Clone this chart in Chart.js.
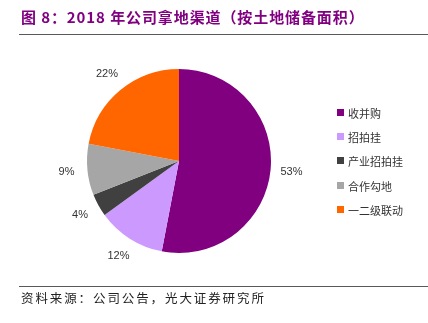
<!DOCTYPE html>
<html>
<head>
<meta charset="utf-8">
<script src="https://cdn.jsdelivr.net/npm/chart.js@4/dist/chart.umd.min.js"></script>
<style>
    html, body { margin: 0; padding: 0; background: #fff; }
    #wrap { position: relative; width: 428px; height: 323px; overflow: hidden; font-family: "Noto Sans CJK SC", sans-serif; }
    #pie-box { position: absolute; left: 0; top: 0; width: 428px; height: 323px; }
    #title { position: absolute; left: 21px; top: 6px; font-size: 15px; font-weight: bold; color: #800080; white-space: nowrap; letter-spacing: 0.9px; }
    .rule { position: absolute; left: 19px; right: 0; height: 1px; background: #595959; }
    #source { position: absolute; left: 21px; top: 288px; font-size: 12.5px; color: #222; letter-spacing: 1.9px; white-space: nowrap; }
    #legend { position: absolute; left: 337px; top: 104px; }
    .item { height: 24.2px; display: flex; align-items: flex-start; font-size: 11px; color: #333; line-height: 18px; }
    .item span.box { width: 7px; height: 7px; margin: 5px 4px 0 0; flex: none; }
</style>
</head>
<body>
<div id="wrap">
    <div id="pie-box"><canvas id="pie-chart"></canvas></div>
    <div id="title">图 8：2018 年公司拿地渠道（按土地储备面积）</div>
    <div class="rule" style="top:34px"></div>
    <div id="legend"></div>
    <div class="rule" style="top:286px"></div>
    <div id="source">资料来源：公司公告，光大证券研究所</div>
</div>
<script>
const channels = ['收并购', '招拍挂', '产业招拍挂', '合作勾地', '一二级联动'];
const shares = [53, 12, 4, 9, 22];
const sliceColors = ['#800080', '#CC99FF', '#404040', '#A6A6A6', '#FF6600'];

// percentage labels just outside each slice
const outsideLabels = {
    id: 'outsideLabels',
    afterDatasetsDraw(chart) {
        const ctx = chart.ctx;
        const arcs = chart.getDatasetMeta(0).data;
        ctx.save();
        ctx.font = '11px "Liberation Sans", Arial, sans-serif';
        ctx.fillStyle = '#333';
        ctx.textAlign = 'center';
        ctx.textBaseline = 'middle';
        arcs.forEach((arc, i) => {
            const mid = (arc.startAngle + arc.endAngle) / 2;
            const r = arc.outerRadius + 21;
            ctx.fillText(shares[i] + '%', arc.x + Math.cos(mid) * r, arc.y + Math.sin(mid) * r);
        });
        ctx.restore();
    }
};

function buildLegend() {
    const box = document.getElementById('legend');
    channels.forEach((name, i) => {
        const row = document.createElement('div');
        row.className = 'item';
        row.innerHTML = `<span class="box" style="background:${sliceColors[i]}"></span>${name}`;
        box.appendChild(row);
    });
}

document.addEventListener('DOMContentLoaded', () => {
    buildLegend();
    new Chart(document.getElementById('pie-chart'), {
        type: 'pie',
        data: {
            labels: channels,
            datasets: [{
                data: shares,
                backgroundColor: sliceColors,
                borderWidth: 0
            }]
        },
        options: {
            responsive: true,
            maintainAspectRatio: false,
            animation: false,
            layout: {
                padding: { left: 87, right: 157, top: 69, bottom: 70 }
            },
            plugins: {
                legend: { display: false },
                tooltip: { enabled: false }
            }
        },
        plugins: [outsideLabels]
    });
});
</script>
</body>
</html>
